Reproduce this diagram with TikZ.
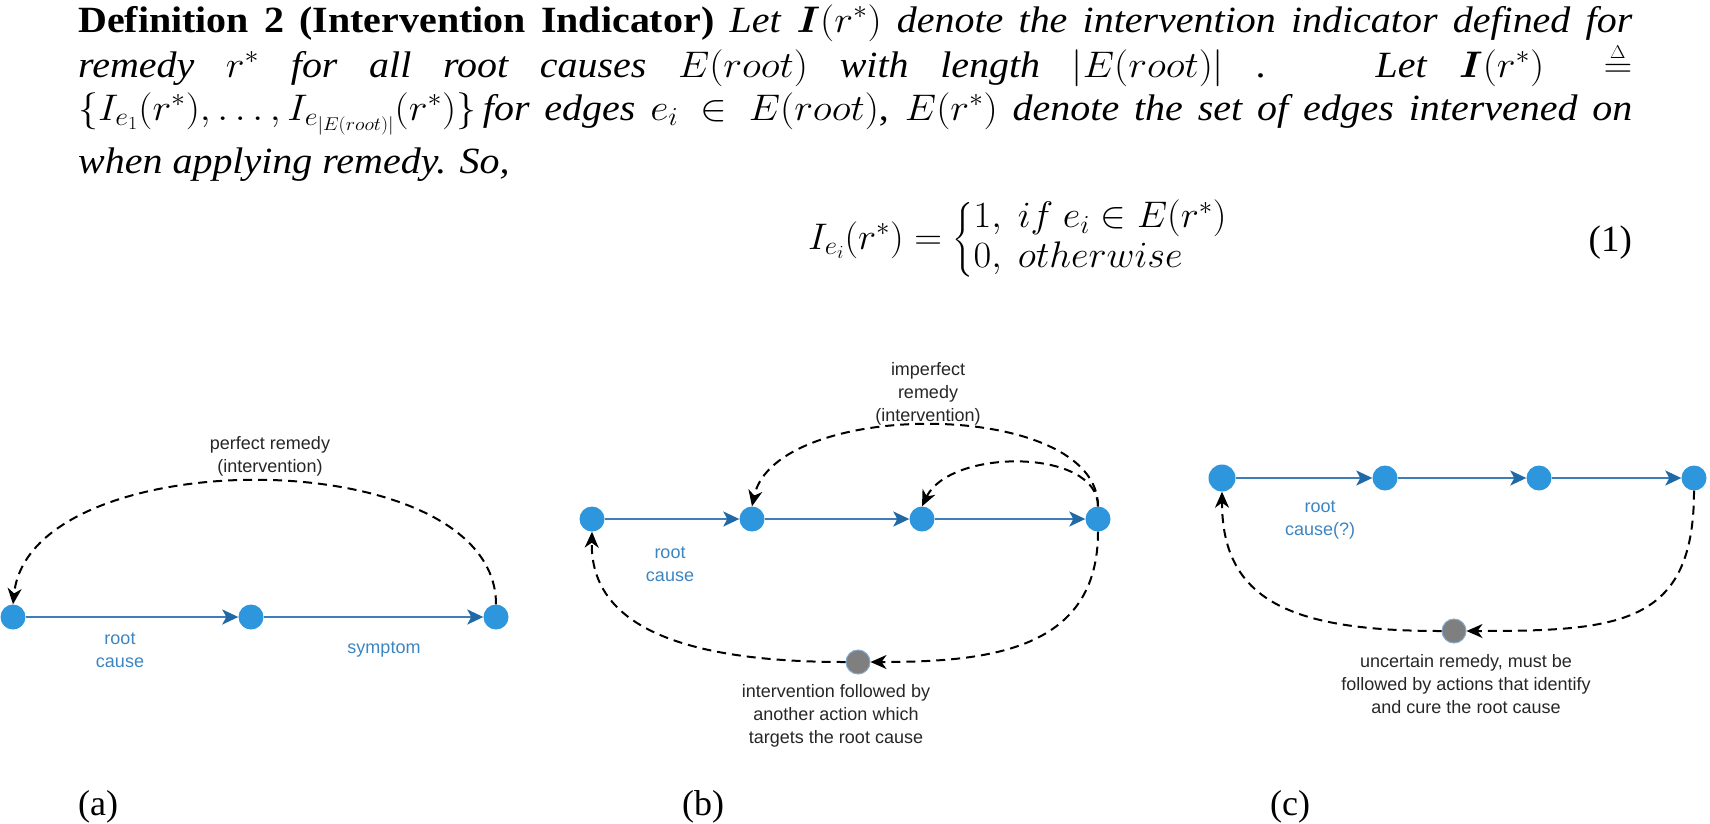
\RequirePackage{fix-cm}
\documentclass[tikz,border=0pt]{standalone}
\usepackage{amsmath}
\usepackage{graphicx}
\usepackage{fontspec}
\setmainfont{Liberation Serif}
\newfontfamily\lblfont{Liberation Sans}
\usetikzlibrary{arrows.meta}
\definecolor{nodeblue}{HTML}{2D96DC}
\definecolor{edgeblue}{HTML}{3D7DB8}
\definecolor{tipblue}{HTML}{1F69A6}
\definecolor{lblblue}{HTML}{3C85C2}
\definecolor{graynode}{HTML}{7F7F7F}
\definecolor{grayrim}{HTML}{86AACB}
\newcommand{\mydeq}{\mathrel{\stackrel{\scriptscriptstyle\Delta}{=}}}
\newcommand{\txtline}[1]{\scalebox{1.08}[1]{\makebox[1439pt][s]{#1}}}
\begin{document}
\begin{tikzpicture}[x=1pt,y=-1pt,
  txt/.style={anchor=base west, inner sep=0pt, font=\fontsize{37}{40}\selectfont},
  bnode/.style={circle, fill=nodeblue, inner sep=0pt, minimum size=25pt},
  gnode/.style={circle, fill=graynode, draw=grayrim, line width=1pt, inner sep=0pt, minimum size=24pt},
  flow/.style={draw=edgeblue, line width=2pt, -{Stealth[length=16pt,width=15pt,inset=4pt,color=tipblue]}},
  rem/.style={draw=black, line width=2pt, dash pattern=on 9pt off 6pt, -{Stealth[length=16pt,width=14pt,inset=5pt]}},
  lbl/.style={font=\lblfont\fontsize{18}{23}\selectfont, align=center, text=black!85, inner sep=0pt},
  blbl/.style={lbl, text=lblblue},
  capt/.style={anchor=base west, inner sep=0pt, font=\fontsize{36}{40}\selectfont},
]
\useasboundingbox (0,0) rectangle (1710,823);

% ---- text ----
\node[txt] (l1) at (78,32) {\txtline{\textbf{Definition 2 (Intervention Indicator)} \textit{Let} $\boldsymbol{I}(r^*)$ \textit{denote the intervention indicator defined for}}};
\node[txt] (l2) at (78,77) {\txtline{\textit{remedy} $r^*$ \textit{for all root causes} $E(root)$ \textit{with length} $|E(root)|$ . \ \textit{Let} $\boldsymbol{I}(r^*) \mydeq$}};
\node[txt] (l3) at (78,120) {\txtline{$\{I_{e_1}(r^*),\ldots,I_{e_{|E(root)|}}(r^*)\}$\,\textit{for edges} $e_i \in E(root)$, $E(r^*)$ \textit{denote the set of edges intervened on}}};
\node[txt] (l4) at (78,173) {\scalebox{1.08}[1]{\textit{when applying remedy. So,}}};
\node[anchor=base west, inner sep=0pt, font=\fontsize{37}{33}\selectfont] (eq) at (808,249)
  {\scalebox{1.04}[1]{$I_{e_i}(r^*) = \begin{cases} 1,\ if\ e_i \in E(r^*)\\ 0,\ otherwise\end{cases}$}};
\node[anchor=base east, inner sep=0pt, font=\fontsize{37}{40}\selectfont] (eqn) at (1632,251) {(1)};

% ---- (a) ----
\node[bnode] (a1) at (13,617) {};
\node[bnode] (a2) at (251,617) {};
\node[bnode] (a3) at (496,617) {};
\draw[flow] (a1) -- (a2);
\draw[flow] (a2) -- (a3);
\draw[rem] (a3.north) .. controls (496,440) and (30,440) .. (a1.north);
\node[lbl] (pr) at (270,456) {perfect remedy\\(intervention)};
\node[blbl] (rca) at (120,650) {root\\cause};
\node[blbl] (sy) at (384,650) {symptom};

% ---- (b) ----
\node[bnode] (b1) at (592,519) {};
\node[bnode] (b2) at (752,519) {};
\node[bnode] (b3) at (922,519) {};
\node[bnode] (b4) at (1098,519) {};
\node[gnode] (bg) at (858,662) {};
\draw[flow] (b1) -- (b2);
\draw[flow] (b2) -- (b3);
\draw[flow] (b3) -- (b4);
\draw[rem] (b4.north) .. controls (1098,398) and (775,398) .. (b2.north);
\draw[rem] (b4.north) .. controls (1098,448) and (950,448) .. (b3.north);
\draw[rem] (b4.south) .. controls (1098,650) and (990,662) .. (bg.east);
\draw[rem] (bg.west) .. controls (680,662) and (590,625) .. (b1.south);
\node[lbl] (ir) at (928,394) {imperfect\\remedy\\(intervention)};
\node[blbl] (rcb) at (670,564) {root\\cause};
\node[lbl] (ifb) at (836,716) {intervention followed by\\another action which\\targets the root cause};

% ---- (c) ----
\node[bnode, minimum size=27pt] (c1) at (1222,478) {};
\node[bnode] (c2) at (1385,478) {};
\node[bnode] (c3) at (1539,478) {};
\node[bnode] (c4) at (1694,478) {};
\node[gnode] (cg) at (1454,631) {};
\draw[flow] (c1) -- (c2);
\draw[flow] (c2) -- (c3);
\draw[flow] (c3) -- (c4);
\draw[rem] (c4.south) .. controls (1694,625) and (1620,631) .. (cg.east);
\draw[rem] (cg.west) .. controls (1290,631) and (1222,600) .. (c1.south);
\node[blbl] (rcc) at (1320,520) {root\\cause(?)};
\node[lbl] (ucr) at (1466,684) {uncertain remedy, must be\\followed by actions that identify\\and cure the root cause};

% ---- captions ----
\node[capt] (capa) at (78,815) {(a)};
\node[capt] (capb) at (682,815) {(b)};
\node[capt] (capc) at (1270,815) {(c)};
\end{tikzpicture}
\end{document}
